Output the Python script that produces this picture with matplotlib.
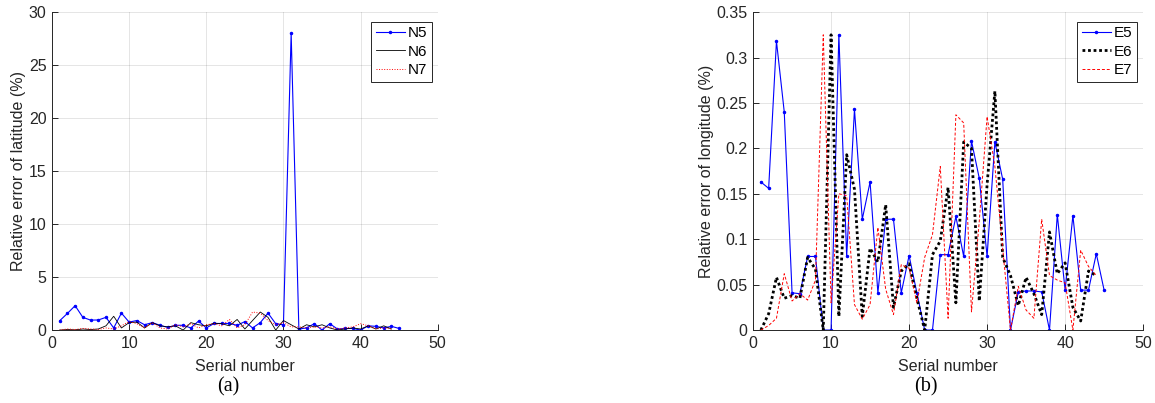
import numpy as np
import matplotlib.pyplot as plt
from matplotlib.ticker import FuncFormatter

plt.rcParams['font.family'] = ['Liberation Sans', 'DejaVu Sans']

# relative error of latitude (%)
n5 = [0.88, 1.57, 2.3, 1.2, 0.94, 0.95, 1.2, 0.2, 1.6, 0.75, 0.9, 0.5, 0.7, 0.45, 0.25,
      0.45, 0.45, 0.2, 0.85, 0.2, 0.62, 0.62, 0.62, 0.45, 0.8, 0.2, 0.7, 1.6, 0.6, 0.5,
      28.0, 0.1, 0.2, 0.6, 0.0, 0.6, 0.1, 0.15, 0.15, 0.0, 0.4, 0.35, 0.2, 0.35, 0.15]
n6 = [0.0, 0.05, 0.02, 0.1, 0.05, 0.1, 0.4, 1.3, 0.2, 0.7, 0.75, 0.2, 0.7, 0.4, 0.3,
      0.4, 0.0, 0.7, 0.5, 0.4, 0.65, 0.6, 0.4, 1.0, 0.1, 0.9, 1.7, 1.2, 0.0, 0.9,
      0.5, 0.1, 0.5, 0.3, 0.5, 0.2, 0.0, 0.1, 0.2, 0.1, 0.4, 0.1, 0.4, 0.1]
n7 = [0.0, 0.1, 0.05, 0.15, 0.1, 0.05, 0.2, 0.1, 0.4, 0.8, 0.6, 0.2, 0.7, 0.2, 0.1,
      0.5, 0.3, 0.6, 0.2, 0.5, 0.6, 0.4, 1.0, 0.2, 0.5, 1.7, 1.6, 0.9, 0.5, 0.7,
      0.3, 0.3, 0.2, 0.3, 0.2, 0.3, 0.1, 0.2, 0.3, 0.6, 0.4, 0.1, 0.2, 0.1]

# relative error of longitude (%)
e5 = [0.163, 0.156, 0.318, 0.240, 0.041, 0.040, 0.081, 0.081, 0.0, 0.0, 0.325, 0.081,
      0.243, 0.122, 0.163, 0.041, 0.122, 0.122, 0.041, 0.082, 0.041, 0.0, 0.0, 0.083,
      0.083, 0.125, 0.081, 0.208, 0.167, 0.081, 0.207, 0.166, 0.0, 0.042, 0.043, 0.043,
      0.042, 0.0, 0.127, 0.044, 0.126, 0.044, 0.044, 0.084, 0.044]
e6 = [0.0, 0.018, 0.058, 0.035, 0.038, 0.035, 0.080, 0.067, 0.0, 0.325, 0.015, 0.193,
      0.155, 0.015, 0.090, 0.075, 0.138, 0.025, 0.065, 0.073, 0.035, 0.0, 0.083, 0.098,
      0.157, 0.030, 0.207, 0.200, 0.032, 0.160, 0.263, 0.080, 0.060, 0.027, 0.058, 0.040,
      0.017, 0.108, 0.062, 0.074, 0.025, 0.010, 0.065, 0.060]
e7 = [0.0, 0.005, 0.013, 0.062, 0.032, 0.040, 0.033, 0.055, 0.325, 0.030, 0.150, 0.148,
      0.028, 0.012, 0.028, 0.113, 0.045, 0.017, 0.072, 0.068, 0.030, 0.080, 0.105, 0.180,
      0.013, 0.237, 0.228, 0.020, 0.120, 0.235, 0.180, 0.090, 0.0, 0.048, 0.022, 0.013,
      0.122, 0.060, 0.055, 0.052, 0.0, 0.088, 0.070, 0.060]

axis_col = (0.15, 0.15, 0.15)

fig = plt.figure(figsize=(11.55, 4.03), dpi=100)
ax1 = fig.add_axes([0.045, 0.181, 0.334, 0.789])
ax2 = fig.add_axes([0.652, 0.181, 0.3377, 0.789])


def style_axes(ax, ymax, ystep, ylabel):
    ax.set_xlim(0, 50)
    ax.set_ylim(0, ymax)
    ax.set_xticks(np.arange(0, 51, 10))
    ax.set_yticks(np.arange(0, ymax + ystep / 2, ystep))
    ax.yaxis.set_major_formatter(FuncFormatter(lambda v, p: '%g' % round(v, 4)))
    ax.grid(True, color=(0.15, 0.15, 0.15), alpha=0.12, linewidth=0.7)
    ax.set_axisbelow(True)
    for s in ['top', 'right']:
        ax.spines[s].set_visible(False)
    for s in ['left', 'bottom']:
        ax.spines[s].set_color(axis_col)
        ax.spines[s].set_linewidth(0.7)
    ax.tick_params(direction='in', length=4, width=0.7, colors=axis_col,
                   labelsize=11.5, pad=4)
    ax.set_xlabel('Serial number', fontsize=11.5, color=axis_col, labelpad=6)
    ax.set_ylabel(ylabel, fontsize=11.5, color=axis_col, labelpad=2)


ax1.plot(np.arange(1, len(n5) + 1), n5, color='#0000ff', lw=0.8, marker='.', ms=3, label='N5')
ax1.plot(np.arange(1, len(n6) + 1), n6, color='black', lw=0.6, label='N6')
ax1.plot(np.arange(1, len(n7) + 1), n7, color='red', lw=0.7, ls=':', label='N7')
style_axes(ax1, 30, 5, 'Relative error of latitude (%)')

ax2.plot(np.arange(1, len(e5) + 1), e5, color='#0000ff', lw=0.8, marker='.', ms=3, label='E5')
ax2.plot(np.arange(1, len(e6) + 1), e6, color='black', lw=2.0, ls=(0, (1, 1)), label='E6')
ax2.plot(np.arange(1, len(e7) + 1), e7, color='red', lw=0.7, ls=(0, (3, 2)), label='E7')
style_axes(ax2, 0.35, 0.05, 'Relative error of longitude (%)')

for ax in (ax1, ax2):
    leg = ax.legend(loc='upper right', bbox_to_anchor=(0.985, 0.97), fontsize=11,
                    fancybox=False, framealpha=1, edgecolor=axis_col,
                    handlelength=1.9, handletextpad=0.2, borderpad=0.3,
                    labelspacing=0.3, borderaxespad=0)
    leg.get_frame().set_linewidth(0.7)

fig.text(0.198, 0.04, '(a)', family='Liberation Serif', fontsize=14.5, ha='center', va='center')
fig.text(0.802, 0.04, '(b)', family='Liberation Serif', fontsize=14.5, ha='center', va='center')

fig.savefig('out.png', dpi=100)
